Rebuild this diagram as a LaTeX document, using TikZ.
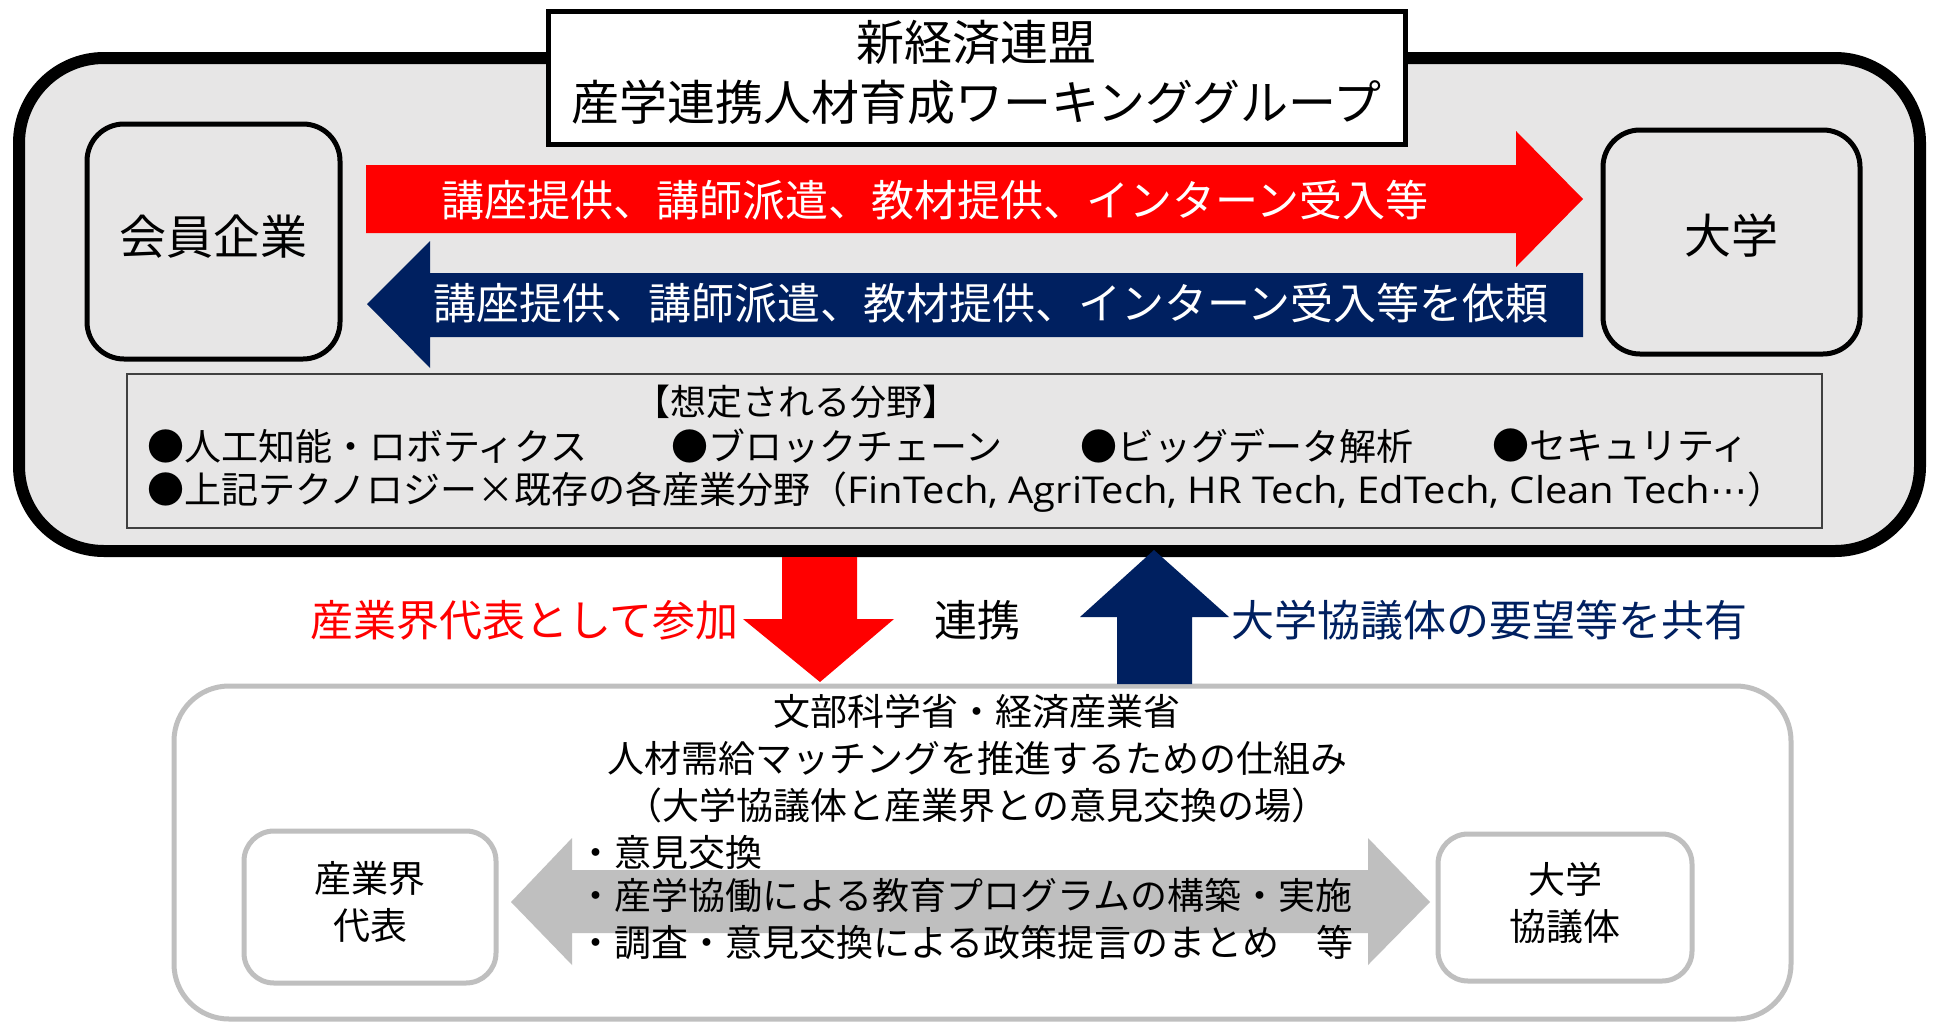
\documentclass[tikz,border=0pt]{standalone}
\usepackage{fontspec}
\setmainfont{Noto Sans CJK JP}
\newfontfamily\latinfont[FakeStretch=1.08]{Open Sans}
\newfontfamily\dejavu{DejaVu Sans}
\definecolor{bggray}{HTML}{E7E6E6}
\definecolor{navy}{HTML}{002060}
\definecolor{lgray}{HTML}{BFBFBF}
\definecolor{dgray}{HTML}{404040}
\begin{document}
\begin{tikzpicture}[x=1pt,y=-1pt,
  roundbox/.style={draw=black, line width=5pt, rounded corners=37pt, inner sep=0pt, align=center, font=\fontsize{47}{56}\selectfont},
  smallbox/.style={draw=lgray, fill=white, line width=5pt, rounded corners=30pt, inner sep=0pt, font=\fontsize{37}{47}\selectfont},
  big/.style={font=\fontsize{48}{60}\selectfont, inner sep=0pt, align=center},
  mid/.style={font=\fontsize{43}{50}\selectfont, inner sep=0pt},
  fld/.style={font=\fontsize{37}{42}\selectfont, inner sep=0pt, anchor=west},
  low/.style={font=\fontsize{37}{47}\selectfont, inner sep=0pt, align=center},
  lowl/.style={font=\fontsize{37}{47}\selectfont, inner sep=0pt, anchor=west}
]
\useasboundingbox (0,0) rectangle (1935,1023);
\fill[white] (0,0) rectangle (1935,1023);

% outer box
\node[draw=black, line width=12pt, rounded corners=85pt, fill=bggray, minimum width=1901pt, minimum height=493pt, inner sep=0pt] (outer) at (969.5,304.5) {};

% title box
\node[draw=black, line width=5pt, fill=white, minimum width=857pt, minimum height=133pt, inner sep=0pt] (title) at (976.5,77.5) {};
\node[big] (titletxt) at ([yshift=5pt]title.center) {新経済連盟\\産学連携人材育成ワーキンググループ};

% member companies / university
\node[roundbox, minimum width=253pt, minimum height=235pt] (kaiin) at (213.5,241.5) {\raisebox{5pt}[\height][\depth]{会員企業}};
\node[roundbox, minimum width=257pt, minimum height=224pt] (daigaku) at (1731.5,242) {\raisebox{6pt}[\height][\depth]{大学}};

% red arrow to the right
\fill[red] (366,165) -- (1516,165) -- (1516,131) -- (1583,199) -- (1516,267) -- (1516,233) -- (366,233) -- cycle;
\node[mid, text=white] (redtxt) at (935,200) {講座提供、講師派遣、教材提供、インターン受入等};

% navy arrow to the left
\fill[navy] (1583,273) -- (430,273) -- (430,241) -- (367,304) -- (430,368) -- (430,337) -- (1583,337) -- cycle;
\node[mid, text=white] (bluetxt) at (991,303) {講座提供、講師派遣、教材提供、インターン受入等を依頼};

% fields box
\node[draw=dgray, line width=2pt, minimum width=1695pt, minimum height=154pt, inner sep=0pt] (fields) at (974.5,451) {};
\node[font=\fontsize{36}{42}\selectfont, inner sep=0pt] (fhead) at (796,402) {【想定される分野】};
\node[fld] (f1) at (147,446) {●人工知能・ロボティクス};
\node[fld] (f2) at (671,446) {●ブロックチェーン};
\node[fld] (f3) at (1080,446) {●ビッグデータ解析};
\node[fld] (f4) at (1492,446) {●セキュリティ};
\node[fld] (f5) at (147,492) {●上記テクノロジー×既存の各産業分野（{\latinfont FinTech, AgriTech, HR Tech, EdTech, Clean Tech}{\dejavu ⋯}）};

% bottom box
\node[draw=lgray, line width=5pt, rounded corners=55pt, fill=white, minimum width=1617pt, minimum height=333pt, inner sep=0pt] (bottom) at (982.5,852.5) {};

% vertical arrows
\fill[red] (782,557) -- (857,557) -- (857,619) -- (894,619) -- (820,682) -- (743,619) -- (782,619) -- cycle;
\fill[navy] (1117,684) -- (1117,617) -- (1080,617) -- (1154,550) -- (1229,617) -- (1192,617) -- (1192,684) -- cycle;
\node[mid, text=red, anchor=east] (sanka) at (739,620) {産業界代表として参加};
\node[mid] (renkei) at (977,620) {連携};
\node[mid, text=navy, anchor=west] (kyoyu) at (1231,620) {大学協議体の要望等を共有};

% bottom texts
\node[low] (mext) at (977,759) {文部科学省・経済産業省\\人材需給マッチングを推進するための仕組み\\（大学協議体と産業界との意見交換の場）};

% small boxes
\node[smallbox, minimum width=252pt, minimum height=152pt] (sangyo) at (370,907) {\begin{tabular}{@{}c@{}}産業界\\代表\end{tabular}};
\node[smallbox, minimum width=254pt, minimum height=147pt] (kyogi) at (1565,907.5) {\begin{tabular}{@{}c@{}}大学\\協議体\end{tabular}};

% gray double arrow
\fill[lgray] (511,902) -- (572,838) -- (572,870) -- (1368,870) -- (1368,838) -- (1430,902) -- (1368,965) -- (1368,933) -- (572,933) -- (572,965) -- cycle;
\node[lowl] (b1) at (577,852) {・意見交換};
\node[lowl] (b2) at (577,895) {・産学協働による教育プログラムの構築・実施};
\node[lowl] (b3) at (577,942) {・調査・意見交換による政策提言のまとめ　等};
\end{tikzpicture}
\end{document}
